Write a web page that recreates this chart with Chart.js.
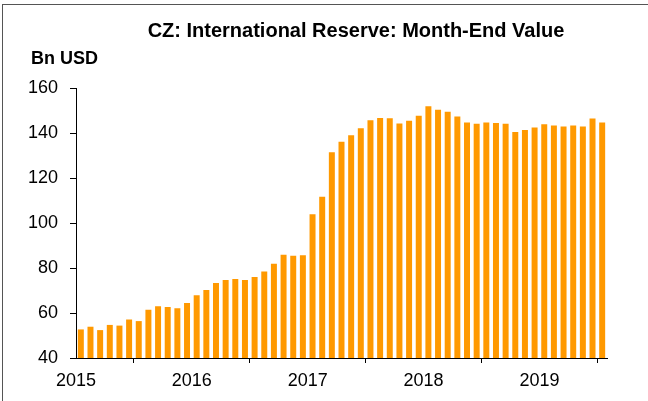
<!DOCTYPE html>
<html>
<head>
<meta charset="utf-8">
<script src="https://cdn.jsdelivr.net/npm/chart.js@4.4.1/dist/chart.umd.min.js"></script>
<style>
    html, body { margin: 0; padding: 0; background: #fff; }
    #wrap { position: relative; width: 648px; height: 401px; }
    #frame { position: absolute; left: 2px; top: 4px; right: 0; bottom: 0; border-left: 1px solid #555; border-top: 1px solid #555; pointer-events: none; }
</style>
</head>
<body>
<div id="wrap">
    <canvas id="reserveChart" width="648" height="401"></canvas>
    <div id="frame"></div>
</div>
<script>
// monthly values, Jan 2015 .. Jul 2019 (Bn USD)
const startYear = 2015;
const yearTicks = [2015, 2016, 2017, 2018, 2019];
const yTicks = [40, 60, 80, 100, 120, 140, 160];
const reserves = [
    52.7, 53.9, 52.4, 54.7, 54.4, 57.1, 56.4, 61.4, 63.0, 62.7, 62.1, 64.4,
    67.9, 70.2, 73.3, 74.7, 75.1, 74.7, 76.0, 78.5, 81.9, 85.9, 85.4, 85.7,
    103.9, 111.7, 131.4, 136.1, 139.0, 142.1, 145.7, 146.7, 146.6, 144.2, 145.4, 147.7,
    151.9, 150.3, 149.5, 147.3, 144.7, 144.1, 144.7, 144.4, 144.1, 140.5, 141.3, 142.4,
    143.9, 143.3, 142.9, 143.3, 142.9, 146.4, 144.7
];

// bar sits in the middle of its month
const points = reserves.map((v, i) => ({ x: i + 0.5, y: v }));

// title and unit label drawn on the canvas
const headerText = {
    id: 'headerText',
    afterDraw(chart) {
        const ctx = chart.ctx;
        ctx.save();
        ctx.fillStyle = '#000';
        ctx.textBaseline = 'middle';
        ctx.font = 'bold 20px "Liberation Sans", Arial, sans-serif';
        ctx.textAlign = 'center';
        ctx.fillText('CZ: International Reserve: Month-End Value', 356, 31);
        ctx.font = 'bold 18px "Liberation Sans", Arial, sans-serif';
        ctx.textAlign = 'left';
        ctx.fillText('Bn USD', 31, 59);
        ctx.restore();
    }
};

const ctx = document.getElementById('reserveChart').getContext('2d');
new Chart(ctx, {
    type: 'bar',
    data: {
        datasets: [{
            data: points,
            backgroundColor: '#FF9900',
            borderWidth: 0,
            barPercentage: 0.62,
            categoryPercentage: 1.0
        }]
    },
    options: {
        responsive: false,
        animation: false,
        layout: { padding: { left: 0, right: 41, top: 88, bottom: 0 } },
        plugins: {
            legend: { display: false },
            tooltip: { enabled: false }
        },
        scales: {
            x: {
                type: 'linear',
                offset: false,
                min: 0,
                max: reserves.length,
                afterBuildTicks: (scale) => {
                    scale.ticks = yearTicks.map(y => ({ value: (y - startYear) * 12 }));
                },
                afterFit: (scale) => { scale.height = 43; },
                ticks: {
                    color: '#000',
                    padding: 7,
                    maxRotation: 0,
                    autoSkip: false,
                    font: { family: '"Liberation Sans", Arial, sans-serif', size: 18 },
                    callback: (v) => startYear + v / 12
                },
                grid: {
                    drawOnChartArea: false,
                    drawTicks: true,
                    tickLength: 5,
                    color: '#000'
                },
                border: { color: '#000', width: 1 }
            },
            y: {
                min: 40,
                max: 160,
                afterBuildTicks: (scale) => {
                    scale.ticks = yTicks.map(v => ({ value: v }));
                },
                afterFit: (scale) => { scale.width = 76; },
                ticks: {
                    color: '#000',
                    padding: 12,
                    font: { family: '"Liberation Sans", Arial, sans-serif', size: 18 }
                },
                grid: {
                    drawOnChartArea: false,
                    drawTicks: true,
                    tickLength: 6,
                    color: '#000'
                },
                border: { color: '#000', width: 1 }
            }
        }
    },
    plugins: [headerText]
});
</script>
</body>
</html>
